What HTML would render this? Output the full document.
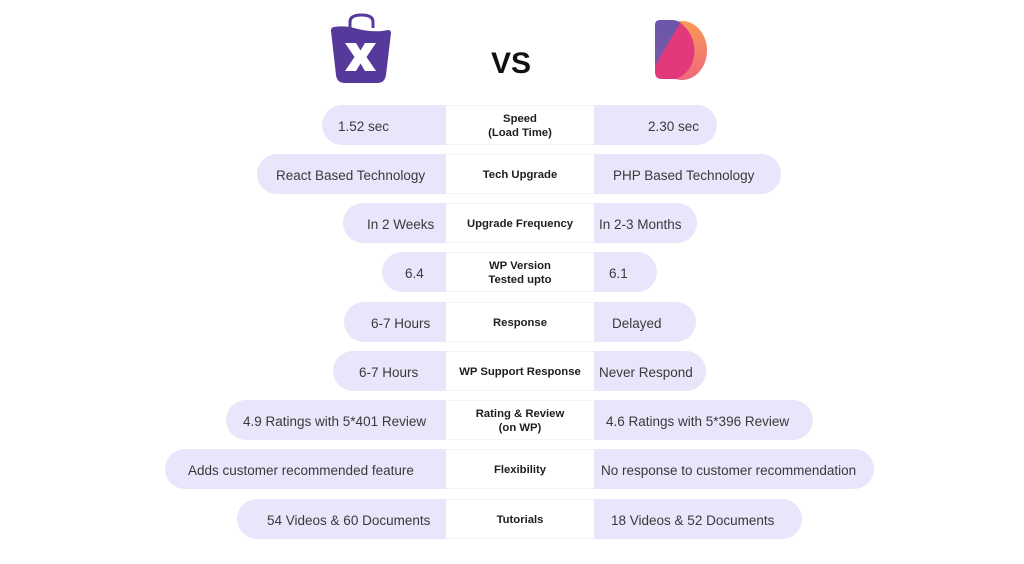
<!DOCTYPE html>
<html><head><meta charset="utf-8"><style>
html,body{margin:0;padding:0;background:#fff;}
body{width:1024px;height:564px;position:relative;overflow:hidden;font-family:"Liberation Sans",Arial,sans-serif;}
.p{position:absolute;height:40px;background:#e9e5fb;}
.l{border-radius:20px 0 0 20px;}
.r{border-radius:0 20px 20px 0;}
.t{position:absolute;font-size:13.5px;color:#3a3a3a;line-height:40px;white-space:nowrap;margin-top:2px;}
.c{position:absolute;left:446px;width:148px;height:40px;display:flex;align-items:center;justify-content:center;text-align:center;font-weight:bold;font-size:11.3px;line-height:14px;color:#1e1e1e;border-top:1px solid #f4f4f4;border-bottom:1px solid #f4f4f4;box-sizing:border-box;white-space:nowrap;padding-top:2px;}
.vs{position:absolute;left:491px;top:44px;font-size:30px;font-weight:bold;color:#111;line-height:40px;}
</style></head><body>
<svg width="1024" height="100" style="position:absolute;left:0;top:0">
  <path d="M350,28 L350,22 Q350,15 361.5,15 Q373,15 373,22 L373,28" fill="none" stroke="#56399b" stroke-width="3"/>
  <path d="M334,27 Q345,25 358,29 Q375,33 388,30 Q391,30 391,33 L386,75 Q385,83 377,83 L345,83 Q337,83 336,75 L331,31 Q331,27 334,27 Z" fill="#56399b"/>
  <polygon points="345,43 356,43 360.5,50.5 365,43 376,43 366.5,57 376,71 365,71 360.5,63.5 356,71 345,71 354.5,57" fill="#fff"/>
  <defs>
    <linearGradient id="og" x1="0" y1="0" x2="0" y2="1">
      <stop offset="0" stop-color="#f79a55"/>
      <stop offset="1" stop-color="#f0687f"/>
    </linearGradient>
    <linearGradient id="pg" x1="0" y1="0" x2="0" y2="1">
      <stop offset="0" stop-color="#6a55a9"/>
      <stop offset="1" stop-color="#7a5aa6"/>
    </linearGradient>
  </defs>
  <ellipse cx="682" cy="50.5" rx="25" ry="29.5" fill="url(#og)"/>
  <path d="M679,22 C700,35 700,70 676,79 L662,79 Q655,79 655,72 L655,60 Z" fill="#e2397d"/>
  <path d="M655,66 L655,25 Q655,20 660,20 L672,20 Q678,20 680,23 Z" fill="url(#pg)"/>
</svg>
<div class="vs">VS</div>

<!-- Row 1 -->
<div class="p l" style="left:322px;width:124px;top:105px"></div>
<div class="p r" style="left:594px;width:123px;top:105px"></div>
<div class="t" style="left:338px;top:105px">1.52 sec</div>
<div class="t" style="left:648px;top:105px">2.30 sec</div>
<div class="c" style="top:105px">Speed<br>(Load Time)</div>

<!-- Row 2 -->
<div class="p l" style="left:257px;width:189px;top:154px"></div>
<div class="p r" style="left:594px;width:187px;top:154px"></div>
<div class="t" style="left:276px;top:154px">React Based Technology</div>
<div class="t" style="left:613px;top:154px">PHP Based Technology</div>
<div class="c" style="top:154px">Tech Upgrade</div>

<!-- Row 3 -->
<div class="p l" style="left:343px;width:103px;top:203px"></div>
<div class="p r" style="left:594px;width:103px;top:203px"></div>
<div class="t" style="left:367px;top:203px">In 2 Weeks</div>
<div class="t" style="left:599px;top:203px">In 2-3 Months</div>
<div class="c" style="top:203px">Upgrade Frequency</div>

<!-- Row 4 -->
<div class="p l" style="left:382px;width:64px;top:252px"></div>
<div class="p r" style="left:594px;width:63px;top:252px"></div>
<div class="t" style="left:405px;top:252px">6.4</div>
<div class="t" style="left:609px;top:252px">6.1</div>
<div class="c" style="top:252px">WP Version<br>Tested upto</div>

<!-- Row 5 -->
<div class="p l" style="left:344px;width:102px;top:302px"></div>
<div class="p r" style="left:594px;width:102px;top:302px"></div>
<div class="t" style="left:371px;top:302px">6-7 Hours</div>
<div class="t" style="left:612px;top:302px">Delayed</div>
<div class="c" style="top:302px">Response</div>

<!-- Row 6 -->
<div class="p l" style="left:333px;width:113px;top:351px"></div>
<div class="p r" style="left:594px;width:112px;top:351px"></div>
<div class="t" style="left:359px;top:351px">6-7 Hours</div>
<div class="t" style="left:599px;top:351px">Never Respond</div>
<div class="c" style="top:351px">WP Support Response</div>

<!-- Row 7 -->
<div class="p l" style="left:226px;width:220px;top:400px"></div>
<div class="p r" style="left:594px;width:219px;top:400px"></div>
<div class="t" style="left:243px;top:400px">4.9 Ratings with 5*401 Review</div>
<div class="t" style="left:606px;top:400px">4.6 Ratings with 5*396 Review</div>
<div class="c" style="top:400px">Rating &amp; Review<br>(on WP)</div>

<!-- Row 8 -->
<div class="p l" style="left:165px;width:281px;top:449px"></div>
<div class="p r" style="left:594px;width:280px;top:449px"></div>
<div class="t" style="left:188px;top:449px">Adds customer recommended feature</div>
<div class="t" style="left:601px;top:449px">No response to customer recommendation</div>
<div class="c" style="top:449px">Flexibility</div>

<!-- Row 9 -->
<div class="p l" style="left:237px;width:209px;top:499px"></div>
<div class="p r" style="left:594px;width:208px;top:499px"></div>
<div class="t" style="left:267px;top:499px">54 Videos &amp; 60 Documents</div>
<div class="t" style="left:611px;top:499px">18 Videos &amp; 52 Documents</div>
<div class="c" style="top:499px">Tutorials</div>
</body></html>
